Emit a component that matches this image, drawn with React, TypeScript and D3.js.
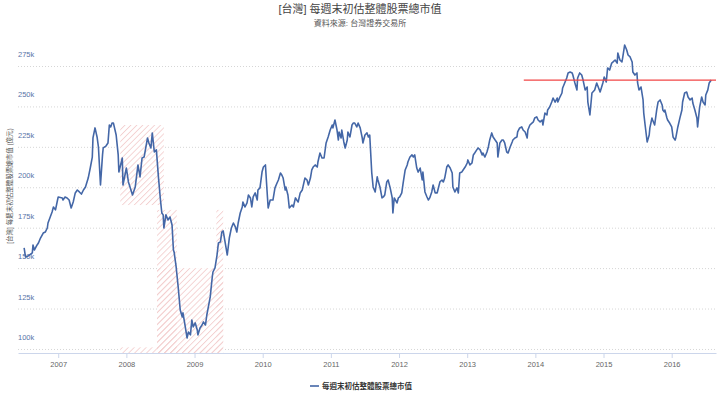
import React, { useRef, useEffect } from "react";
import * as d3 from "d3";

const chartTitle = "[台灣] 每週末初估整體股票總市值";
const chartSubtitle = "資料來源: 台灣證券交易所";
const yAxisTitle = "[台灣] 每週末初估整體股票總市值 (億元)";
const seriesName = "每週末初估整體股票總市值";

// week position as decimal year
const weekYears = [
  2006.50, 2006.52, 2006.56, 2006.62, 2006.63, 2006.65, 2006.69, 2006.71, 2006.74, 2006.78, 2006.81, 2006.84, 2006.85, 2006.91, 2006.93, 2006.96, 2006.99,
  2007.00, 2007.06, 2007.07, 2007.10, 2007.13, 2007.16, 2007.19, 2007.22, 2007.25, 2007.28, 2007.31, 2007.34, 2007.37, 2007.40, 2007.44, 2007.47, 2007.50, 2007.51, 2007.54, 2007.57, 2007.59, 2007.62, 2007.65, 2007.66, 2007.70, 2007.73, 2007.75, 2007.77, 2007.79, 2007.81, 2007.85, 2007.88, 2007.89, 2007.94, 2007.95,
  2008.00, 2008.03, 2008.09, 2008.13, 2008.17, 2008.20, 2008.23, 2008.26, 2008.31, 2008.33, 2008.36, 2008.38, 2008.41, 2008.44, 2008.47, 2008.50, 2008.52, 2008.54, 2008.55, 2008.58, 2008.61, 2008.64, 2008.67, 2008.69, 2008.70, 2008.73, 2008.76, 2008.79, 2008.82, 2008.83, 2008.86, 2008.89, 2008.91, 2008.94, 2008.96, 2008.98,
  2009.01, 2009.04, 2009.05, 2009.08, 2009.11, 2009.13, 2009.16, 2009.18, 2009.20, 2009.23, 2009.26, 2009.27, 2009.30, 2009.33, 2009.35, 2009.38, 2009.40, 2009.42, 2009.46, 2009.48, 2009.51, 2009.54, 2009.57, 2009.60, 2009.62, 2009.64, 2009.67, 2009.70, 2009.71, 2009.74, 2009.77, 2009.79, 2009.82, 2009.84, 2009.86, 2009.89, 2009.92, 2009.93, 2009.96, 2009.99,
  2010.01, 2010.04, 2010.06, 2010.08, 2010.11, 2010.15, 2010.18, 2010.21, 2010.23, 2010.26, 2010.28, 2010.30, 2010.33, 2010.34, 2010.37, 2010.39, 2010.43, 2010.45, 2010.48, 2010.50, 2010.52, 2010.55, 2010.58, 2010.59, 2010.62, 2010.65, 2010.67, 2010.70, 2010.72, 2010.74, 2010.77, 2010.80, 2010.81, 2010.84, 2010.87, 2010.90, 2010.93, 2010.96, 2010.99,
  2011.02, 2011.03, 2011.06, 2011.09, 2011.11, 2011.12, 2011.15, 2011.16, 2011.19, 2011.21, 2011.24, 2011.25, 2011.28, 2011.31, 2011.33, 2011.35, 2011.38, 2011.40, 2011.43, 2011.46, 2011.47, 2011.50, 2011.53, 2011.55, 2011.57, 2011.60, 2011.62, 2011.65, 2011.68, 2011.69, 2011.72, 2011.75, 2011.77, 2011.79, 2011.82, 2011.84, 2011.87, 2011.90, 2011.91, 2011.93, 2011.97, 2011.99,
  2012.01, 2012.04, 2012.06, 2012.09, 2012.12, 2012.13, 2012.16, 2012.19, 2012.21, 2012.23, 2012.26, 2012.28, 2012.31, 2012.34, 2012.35, 2012.38, 2012.41, 2012.43, 2012.45, 2012.48, 2012.50, 2012.53, 2012.56, 2012.57, 2012.60, 2012.63, 2012.65, 2012.67, 2012.70, 2012.72, 2012.75, 2012.78, 2012.79, 2012.82, 2012.85, 2012.87, 2012.89, 2012.92, 2012.94, 2012.97,
  2013.00, 2013.01, 2013.04, 2013.07, 2013.09, 2013.11, 2013.14, 2013.16, 2013.19, 2013.22, 2013.23, 2013.26, 2013.29, 2013.31, 2013.33, 2013.36, 2013.38, 2013.41, 2013.44, 2013.45, 2013.48, 2013.51, 2013.53, 2013.55, 2013.58, 2013.60, 2013.63, 2013.66, 2013.67, 2013.70, 2013.73, 2013.74, 2013.77, 2013.80, 2013.82, 2013.85, 2013.88, 2013.89, 2013.92, 2013.95, 2013.97, 2013.99,
  2014.02, 2014.04, 2014.07, 2014.10, 2014.11, 2014.14, 2014.17, 2014.18, 2014.21, 2014.24, 2014.26, 2014.29, 2014.32, 2014.33, 2014.36, 2014.39, 2014.40, 2014.43, 2014.46, 2014.48, 2014.51, 2014.54, 2014.55, 2014.58, 2014.61, 2014.62, 2014.65, 2014.68, 2014.70, 2014.73, 2014.76, 2014.77, 2014.80, 2014.83, 2014.87, 2014.90, 2014.95, 2014.99,
  2015.01, 2015.04, 2015.06, 2015.09, 2015.12, 2015.14, 2015.17, 2015.20, 2015.21, 2015.24, 2015.27, 2015.28, 2015.31, 2015.34, 2015.36, 2015.39, 2015.42, 2015.43, 2015.46, 2015.49, 2015.50, 2015.52, 2015.55, 2015.58, 2015.59, 2015.61, 2015.64, 2015.67, 2015.68, 2015.71, 2015.72, 2015.75, 2015.78, 2015.80, 2015.83, 2015.86, 2015.87, 2015.89, 2015.90, 2015.93, 2015.94, 2015.97,
  2016.00, 2016.02, 2016.05, 2016.06, 2016.09, 2016.12, 2016.15, 2016.16, 2016.19, 2016.22, 2016.24, 2016.27, 2016.30, 2016.31, 2016.34, 2016.37, 2016.38, 2016.41, 2016.44, 2016.46, 2016.49, 2016.50, 2016.53, 2016.55, 2016.58,
];

// market value, thousand 億元
const marketCapK = [
  162.5, 156.9, 157.5, 159.4, 164.3, 161.2, 164.3, 165.5, 168.6, 171.7, 172.3, 174.8, 177.9, 184.7, 187.8, 186.0, 192.1,
  194.0, 193.4, 192.1, 194.0, 193.4, 192.1, 187.2, 190.9, 196.5, 198.3, 197.1, 195.8, 198.3, 200.2, 205.7, 211.9, 218.7, 230.5, 236.7, 231.1, 224.9, 201.4, 220.0, 224.3, 225.5, 227.4, 238.5, 237.3, 239.7, 239.7, 232.3, 220.0, 209.4, 218.1, 201.4,
  211.9, 203.3, 195.2, 200.2, 213.8, 206.4, 218.1, 218.7, 230.5, 227.4, 224.3, 233.6, 221.8, 223.1, 206.4, 192.1, 184.1, 182.9, 174.8, 182.9, 179.8, 181.6, 176.7, 161.2, 160.0, 150.7, 138.3, 124.1, 119.8, 122.3, 114.8, 106.8, 110.5, 108.7, 117.9, 113.6,
  116.1, 111.7, 108.7, 113.0, 114.8, 116.7, 114.8, 121.0, 125.4, 132.2, 144.5, 147.6, 150.1, 158.1, 165.5, 166.2, 172.3, 173.0, 163.1, 158.1, 168.6, 174.8, 177.9, 175.4, 172.3, 177.9, 184.1, 187.8, 190.9, 187.8, 190.3, 195.2, 193.4, 187.8, 194.0, 196.5, 192.1, 198.3, 199.6, 209.4,
  212.5, 213.8, 200.2, 187.2, 192.1, 192.1, 199.6, 202.6, 204.5, 208.8, 207.6, 205.7, 198.3, 200.2, 195.2, 187.2, 189.0, 187.8, 193.4, 192.1, 190.9, 196.5, 198.3, 200.2, 205.7, 204.5, 201.4, 205.7, 210.7, 212.5, 213.8, 212.5, 215.6, 221.2, 218.1, 218.1, 227.4, 231.1, 235.4,
  238.5, 236.7, 241.6, 235.4, 229.2, 234.2, 230.5, 235.4, 228.0, 224.3, 229.2, 234.2, 231.1, 238.5, 239.7, 239.7, 237.3, 239.7, 236.7, 230.5, 227.4, 232.3, 233.6, 231.1, 232.3, 208.8, 200.2, 197.1, 206.4, 204.5, 200.2, 193.4, 194.0, 195.2, 203.3, 204.5, 199.6, 193.4, 184.1, 193.4, 190.3, 193.4,
  194.0, 196.5, 202.6, 210.7, 213.8, 215.6, 218.7, 220.0, 218.7, 220.0, 211.9, 209.4, 211.9, 204.5, 209.4, 197.1, 194.0, 192.1, 193.4, 197.1, 201.4, 196.5, 196.5, 198.3, 203.3, 204.5, 203.3, 205.7, 212.5, 213.8, 211.9, 208.8, 200.2, 197.1, 199.6, 196.5, 208.8, 209.4, 210.7, 212.5,
  215.0, 216.9, 213.8, 215.0, 220.0, 221.2, 223.1, 224.3, 223.1, 220.0, 221.2, 218.7, 221.8, 224.9, 229.2, 233.6, 231.1, 229.2, 227.4, 218.7, 227.4, 229.2, 229.2, 227.4, 221.8, 221.2, 224.9, 228.0, 229.2, 230.5, 231.1, 234.2, 236.7, 237.3, 235.4, 234.2, 230.5, 235.4, 238.5, 239.7, 240.4, 242.8,
  243.5, 241.6, 240.4, 241.6, 238.5, 245.9, 244.7, 247.8, 249.6, 252.7, 255.2, 252.7, 255.2, 252.7, 255.8, 258.3, 261.4, 264.5, 267.6, 270.7, 271.3, 270.7, 269.4, 264.5, 260.2, 267.6, 270.7, 269.4, 266.3, 260.2, 262.0, 252.7, 244.7, 258.3, 260.2, 264.5, 258.9, 264.5,
  268.2, 265.1, 273.8, 272.5, 276.8, 277.5, 278.7, 276.8, 283.0, 278.7, 277.5, 279.9, 288.0, 284.9, 281.8, 280.6, 277.5, 271.3, 269.4, 270.7, 264.5, 260.2, 262.0, 254.0, 245.9, 238.5, 228.0, 232.3, 236.7, 242.8, 241.6, 238.5, 247.8, 252.7, 254.0, 250.9, 247.8, 246.6, 247.8, 242.8, 241.6, 239.7,
  237.3, 231.1, 229.2, 230.5, 237.3, 242.8, 247.8, 252.7, 258.3, 258.9, 255.8, 254.0, 255.2, 252.1, 247.8, 242.8, 237.3, 249.6, 255.8, 252.7, 250.9, 257.1, 260.2, 264.5, 266.3,
];

const yTicks = [100, 125, 150, 175, 200, 225, 250, 275];
const xTicks = [2007, 2008, 2009, 2010, 2011, 2012, 2013, 2014, 2015, 2016];

// hatched ranges (decimal year from/to, value low/high in k; null low = axis)
const bandFrom = [2007.91, 2007.91, 2008.45, 2008.45, 2009.32];
const bandTo = [2008.55, 2009.40, 2008.74, 2009.42, 2009.42];
const bandLow = [189, null, null, null, null];
const bandHigh = [238.5, 101, 186, 150, 186];

// latest-value reference line
const refFrom = 2013.83;
const refValue = 266.3;

const W = 720, H = 399;
const FONT = "Arial, 'Liberation Sans', 'Noto Sans CJK TC', sans-serif";
const LINE_COLOR = "#4467a7";

function MarketCapChart() {
  const svgRef = useRef<SVGSVGElement>(null);

  useEffect(() => {
    const svg = d3.select(svgRef.current);
    svg.selectAll("*").remove();

    const x = d3.scaleLinear().domain([2006.41, 2016.65]).range([18, 716]);
    const y = d3.scaleLinear().domain([97.5, 292]).range([353, 38.5]);
    const [x0, x1] = x.range();

    const defs = svg.append("defs");
    const pat = defs.append("pattern")
      .attr("id", "hatch")
      .attr("patternUnits", "userSpaceOnUse")
      .attr("width", 4.2)
      .attr("height", 4.2)
      .attr("patternTransform", "rotate(45)");
    pat.append("rect")
      .attr("width", 0.9)
      .attr("height", 4.2)
      .attr("fill", "#f3d0d0");

    // gridlines
    svg.append("g")
      .selectAll("line")
      .data(yTicks)
      .join("line")
      .attr("x1", x0)
      .attr("x2", x1)
      .attr("y1", (d) => y(d) + 0.5)
      .attr("y2", (d) => y(d) + 0.5)
      .attr("stroke", "#d6d6d6")
      .attr("stroke-dasharray", "1,2");

    // hatched bands
    const bands = bandFrom.map((f, i) => ({ f, t: bandTo[i], lo: bandLow[i], hi: bandHigh[i] }));
    const bandG = svg.append("g");
    bandG.selectAll("rect.bg")
      .data(bands)
      .join("rect")
      .attr("class", "bg")
      .attr("x", (d) => x(d.f))
      .attr("width", (d) => x(d.t) - x(d.f))
      .attr("y", (d) => y(d.hi))
      .attr("height", (d) => (d.lo == null ? y.range()[0] : y(d.lo)) - y(d.hi))
      .attr("fill", "#fff");
    bandG.selectAll("rect.hatch")
      .data(bands)
      .join("rect")
      .attr("class", "hatch")
      .attr("x", (d) => x(d.f))
      .attr("width", (d) => x(d.t) - x(d.f))
      .attr("y", (d) => y(d.hi))
      .attr("height", (d) => (d.lo == null ? y.range()[0] : y(d.lo)) - y(d.hi))
      .attr("fill", "url(#hatch)");

    // x axis
    const xAxis = d3.axisBottom(x)
      .tickValues(xTicks)
      .tickFormat(d3.format("d"))
      .tickSizeInner(5)
      .tickSizeOuter(0)
      .tickPadding(4);
    const gx = svg.append("g")
      .attr("transform", `translate(0,${y.range()[0]})`)
      .call(xAxis);
    gx.select(".domain").attr("stroke", "#ccd6eb");
    gx.selectAll(".tick line").attr("stroke", "#ccd6eb");
    gx.selectAll(".tick text")
      .attr("fill", "#666")
      .attr("font-size", 7.5)
      .attr("font-family", FONT);

    // y labels sit above their gridline
    svg.append("g")
      .selectAll("text")
      .data(yTicks)
      .join("text")
      .attr("x", x0)
      .attr("y", (d) => y(d) - 9)
      .attr("font-size", 7.5)
      .attr("font-family", FONT)
      .attr("fill", "#5874a8")
      .text((d) => `${d}k`);

    // series
    const pts = weekYears.map((t, i) => [t, marketCapK[i]] as [number, number]);
    svg.append("path")
      .datum(pts)
      .attr("fill", "none")
      .attr("stroke", LINE_COLOR)
      .attr("stroke-width", 1.6)
      .attr("stroke-linejoin", "round")
      .attr("d", d3.line<[number, number]>().x((d) => x(d[0])).y((d) => y(d[1])));

    // reference line
    svg.append("line")
      .attr("x1", x(refFrom))
      .attr("x2", x1)
      .attr("y1", y(refValue))
      .attr("y2", y(refValue))
      .attr("stroke", "#f24646")
      .attr("stroke-width", 1.3);

    // titles
    svg.append("text")
      .attr("x", W / 2)
      .attr("y", 13)
      .attr("text-anchor", "middle")
      .attr("font-size", 11)
      .attr("font-family", FONT)
      .attr("fill", "#444")
      .text(chartTitle);
    svg.append("text")
      .attr("x", W / 2)
      .attr("y", 26)
      .attr("text-anchor", "middle")
      .attr("font-size", 8)
      .attr("font-family", FONT)
      .attr("fill", "#555")
      .text(chartSubtitle);
    svg.append("text")
      .attr("transform", "translate(12,186) rotate(-90)")
      .attr("text-anchor", "middle")
      .attr("font-size", 6.5)
      .attr("font-family", FONT)
      .attr("fill", "#555")
      .text(yAxisTitle);

    // legend
    const lg = svg.append("g").attr("transform", "translate(310,386)");
    lg.append("line")
      .attr("x1", 0).attr("x2", 9)
      .attr("stroke", LINE_COLOR)
      .attr("stroke-width", 1.6);
    lg.append("text")
      .attr("x", 12)
      .attr("y", 3)
      .attr("font-size", 7.5)
      .attr("font-weight", "bold")
      .attr("font-family", FONT)
      .attr("fill", "#333")
      .text(seriesName);
  }, []);

  return <svg ref={svgRef} width={W} height={H} style={{ display: "block" }} />;
}

export default function App() {
  useEffect(() => {
    document.body.style.margin = "0";
  }, []);
  return <MarketCapChart />;
}
